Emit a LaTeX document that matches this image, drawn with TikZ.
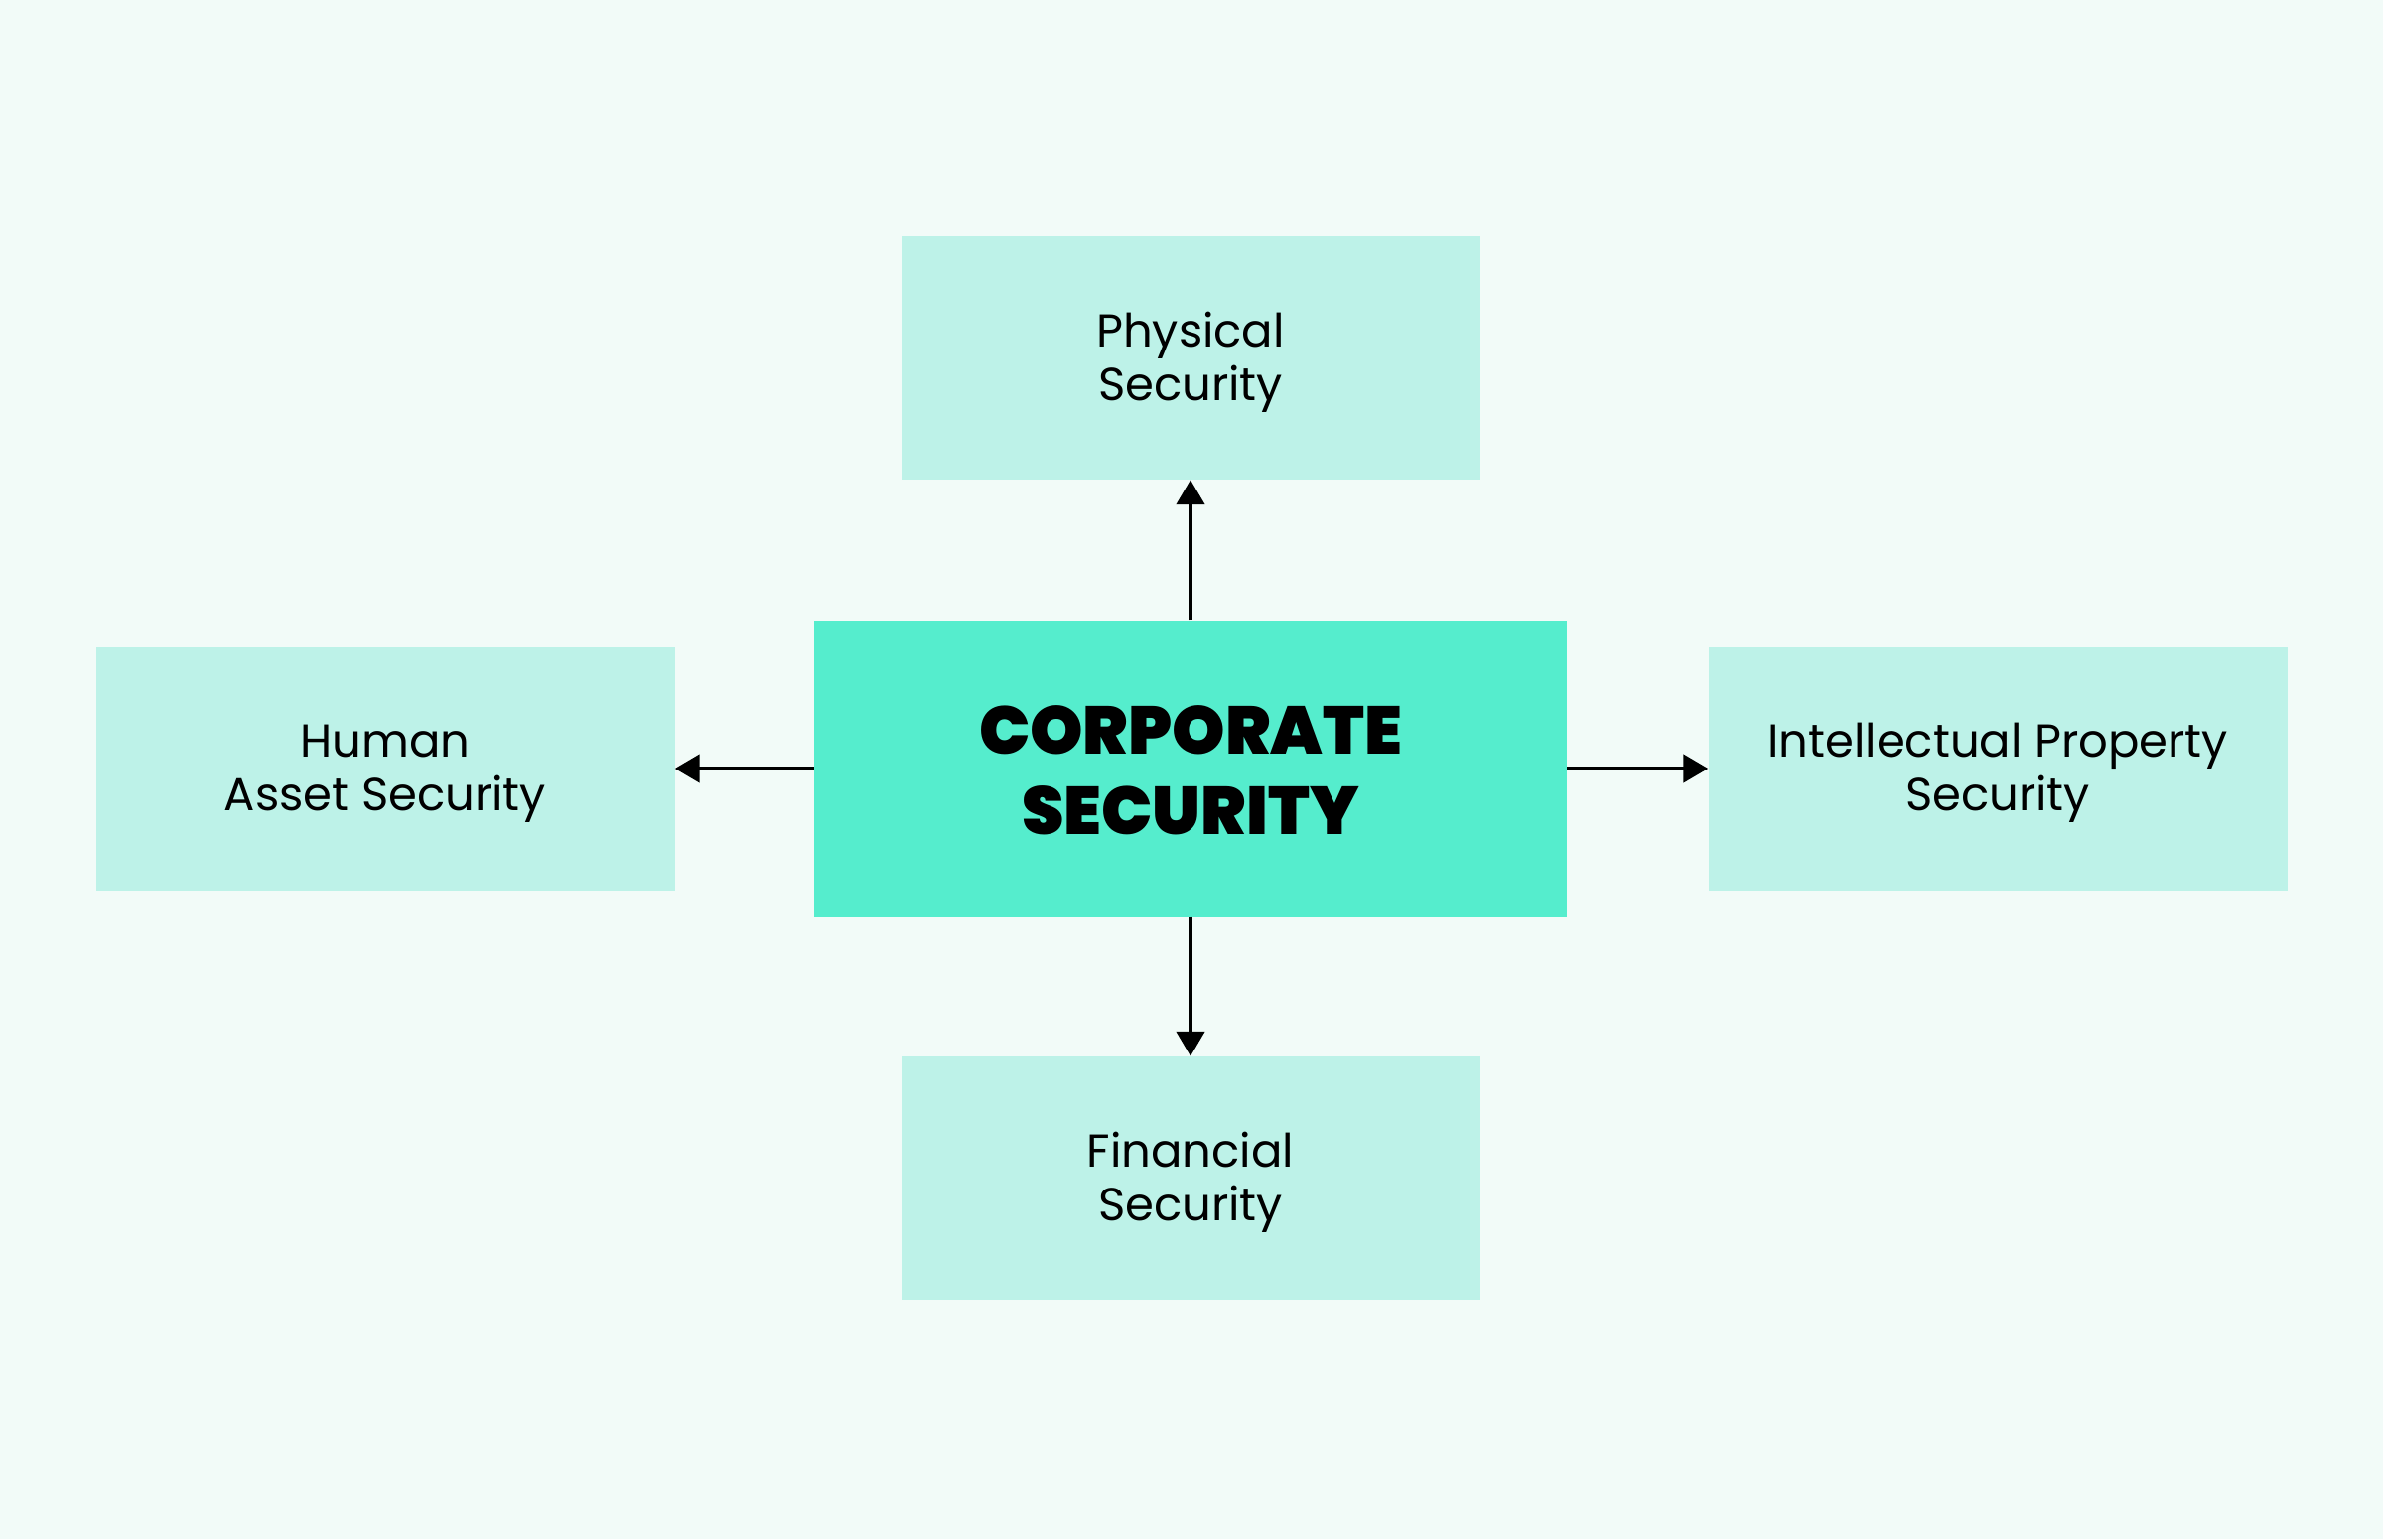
\documentclass[tikz,border=0pt]{standalone}
\usepackage{fontspec}
\setmainfont{Poppins}
\newfontfamily\heavy{Poppins Black}
\usetikzlibrary{arrows.meta}
\definecolor{bgc}{HTML}{F2FBF8}
\definecolor{lightbox}{HTML}{BDF2E8}
\definecolor{mainbox}{HTML}{55EDCD}
\tikzset{
  sub/.style={fill=lightbox, draw=none, minimum width=583pt, minimum height=245pt,
    align=center, inner sep=0pt, font=\fontsize{46.5}{54}\selectfont},
  mainnode/.style={fill=mainbox, draw=none, minimum width=758pt, minimum height=299pt,
    align=center, inner sep=0pt, font=\heavy\fontsize{68}{80}\selectfont},
  conn/.style={line width=4.5pt, -{Triangle[length=25pt,width=28pt]}}
}
\begin{document}
\begin{tikzpicture}[x=1pt,y=-1pt]
\fill[bgc] (0,0) rectangle (2400,1550);
\useasboundingbox (0,0) rectangle (2400,1550);
\node[mainnode] (c) at (1199,774) {\raisebox{-10pt}[\height][\depth]{\begin{tabular}{@{}c@{}}CORPORATE\\[1pt]SECURITY\end{tabular}}};
\node[sub] (p) at (1199,360.5) {\raisebox{-5pt}[\height][\depth]{\begin{tabular}{@{}c@{}}Physical\\Security\end{tabular}}};
\node[sub] (f) at (1199,1186.5) {\raisebox{-5pt}[\height][\depth]{\begin{tabular}{@{}c@{}}Financial\\Security\end{tabular}}};
\node[sub] (h) at (388,774) {\raisebox{-5pt}[\height][\depth]{\begin{tabular}{@{}c@{}}Human\\Asset Security\end{tabular}}};
\node[sub] (i) at (2012,774) {\raisebox{-5pt}[\height][\depth]{\begin{tabular}{@{}c@{}}Intellectual Property\\Security\end{tabular}}};
\draw[conn] (c.north) -- (p.south);
\draw[conn] (c.south) -- (f.north);
\draw[conn] (c.west) -- (h.east);
\draw[conn] (c.east) -- (i.west);
\end{tikzpicture}
\end{document}
